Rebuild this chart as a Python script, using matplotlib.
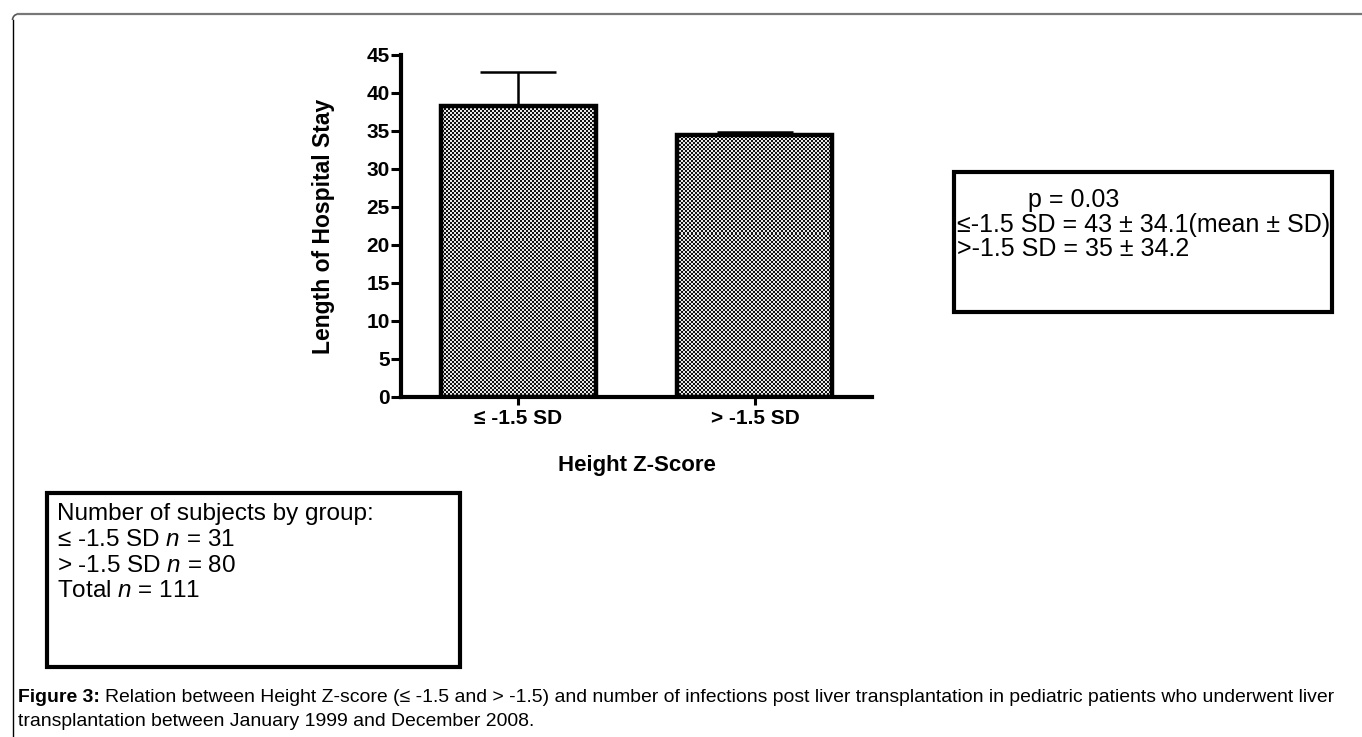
import matplotlib
matplotlib.use("Agg")
import matplotlib.pyplot as plt
import numpy as np
from matplotlib.patches import Rectangle, Arc
from matplotlib.lines import Line2D
from matplotlib.colors import ListedColormap

# ---- data ----
categories = ["\u2264 -1.5 SD", "> -1.5 SD"]
means = [38.3, 34.5]
errors_upper = [4.4, 0.4]
y_ticks = [0, 5, 10, 15, 20, 25, 30, 35, 40, 45]
y_label = "Length of Hospital Stay"
x_label = "Height Z-Score"
stats_title = "p = 0.03"
stats_lines = ["\u2264-1.5 SD = 43 \u00b1 34.1(mean \u00b1 SD)",
               ">-1.5 SD = 35 \u00b1 34.2"]
count_lines = ["Number of subjects by group:",
               "\u2264 -1.5 SD $n$ = 31",
               "> -1.5 SD $n$ = 80",
               "Total $n$ = 111"]
caption_bold = "Figure 3:"
caption_rest = ("Relation between Height Z-score (\u2264 -1.5 and > -1.5) and number of infections "
                "post liver transplantation in pediatric patients who underwent liver")
caption_line2 = "transplantation between January 1999 and December 2008."

plt.rcParams['font.family'] = ['Liberation Sans', 'DejaVu Sans']
plt.rcParams['mathtext.fontset'] = 'custom'
plt.rcParams['mathtext.it'] = 'Liberation Sans:italic'
plt.rcParams['mathtext.rm'] = 'Liberation Sans'

W, H = 1362, 737
fig = plt.figure(figsize=(W / 100, H / 100), dpi=100)

def fx(x):
    return x / W

def fy(y):
    return 1 - y / H

XL = (-0.494, 1.494)
YL = (0, 45)
# axes: x from 401 to 872 px, y from 55 to 397 px
ax = fig.add_axes([fx(401), fy(397), fx(872) - fx(401), fy(55) - fy(397)])

xpos = np.arange(len(categories))
bars = ax.bar(xpos, means, width=0.654, facecolor='none', edgecolor='black',
              linewidth=3.2, zorder=3)
ax.errorbar(xpos, means, yerr=[[0] * len(means), errors_upper], fmt='none',
            ecolor='black', elinewidth=1.8, capsize=27.5, capthick=1.8, zorder=2)

# checkerboard texture clipped into bars
nx, ny = 471 // 2, 342 // 2
yy, xx = np.mgrid[0:ny, 0:nx]
checker = ((xx + yy) % 2).astype(float)
texture_cmap = ListedColormap(['#111111', '#e8e8e8'])
for b in bars:
    im = ax.imshow(checker, cmap=texture_cmap, vmin=0, vmax=1, interpolation='nearest',
                   extent=[XL[0], XL[1], YL[0], YL[1]], aspect='auto', zorder=2.5)
    im.set_clip_path(b)
ax.set_xlim(*XL)
ax.set_ylim(*YL)

for s in ['top', 'right']:
    ax.spines[s].set_visible(False)
for s in ['left', 'bottom']:
    ax.spines[s].set_linewidth(3.0)

ax.set_yticks(y_ticks)
ax.set_yticklabels([str(t) for t in y_ticks], fontsize=15, fontweight='bold')
ax.set_xticks(xpos)
ax.set_xticklabels(categories, fontsize=15, fontweight='bold')
ax.tick_params(axis='y', length=7, width=2.2, pad=1)
ax.tick_params(axis='x', length=6, width=2.2, pad=3)

ax.set_ylabel(y_label, fontsize=16.5, fontweight='bold')
ax.yaxis.set_label_coords(-0.140, 0.5)
ax.set_xlabel(x_label, fontsize=16, fontweight='bold', va='center')
ax.xaxis.set_label_coords(0.5, (397 - 465) / 342)

# stats box (right)
fig.patches.append(Rectangle((fx(954), fy(312)), fx(1332) - fx(954), fy(172) - fy(312),
                             transform=fig.transFigure, fill=False, edgecolor='black',
                             linewidth=3.0))
fig.text(fx(1028), fy(200), stats_title, fontsize=18, va='center', ha='left')
for line, y in zip(stats_lines, [225, 249]):
    fig.text(fx(957), fy(y), line, fontsize=18, va='center', ha='left')

# count box (left)
fig.patches.append(Rectangle((fx(47), fy(667)), fx(460) - fx(47), fy(493) - fy(667),
                             transform=fig.transFigure, fill=False, edgecolor='black',
                             linewidth=3.0))
for line, y in zip(count_lines, [514, 540, 566, 591]):
    fig.text(fx(57), fy(y), line, fontsize=17.5, va='center', ha='left')

# frame
fig.lines.append(Line2D([fx(12.5), fx(12.5)], [fy(20), fy(737)], transform=fig.transFigure,
                        color='black', linewidth=1.0))
fig.lines.append(Line2D([fx(18), fx(1361)], [fy(14), fy(14)], transform=fig.transFigure,
                        color='#777777', linewidth=1.6))
fig.patches.append(Arc((fx(18.5), fy(20)), fx(12), 12 / H, theta1=90, theta2=180,
                       transform=fig.transFigure, color='#555555', linewidth=1.2))

# caption
fig.canvas.draw()
renderer = fig.canvas.get_renderer()
cap_fs = 10.5
t1 = fig.text(fx(18), fy(697), caption_bold, fontsize=cap_fs, fontweight='bold',
              va='center', ha='left')
bb = t1.get_window_extent(renderer)
t2 = fig.text(bb.x1 / W + fx(4), fy(697), caption_rest, fontsize=cap_fs, va='center', ha='left')
bb2 = t2.get_window_extent(renderer)
scale = (1346 - 18) / (bb2.x1 - bb.x0)
cap_fs = cap_fs * scale
t1.set_fontsize(cap_fs)
bb = t1.get_window_extent(renderer)
t2.set_fontsize(cap_fs)
t2.set_position((bb.x1 / W + fx(4 * scale), fy(697)))
fig.text(fx(18), fy(721), caption_line2, fontsize=cap_fs, va='center', ha='left')

fig.savefig("out.png", dpi=100)
